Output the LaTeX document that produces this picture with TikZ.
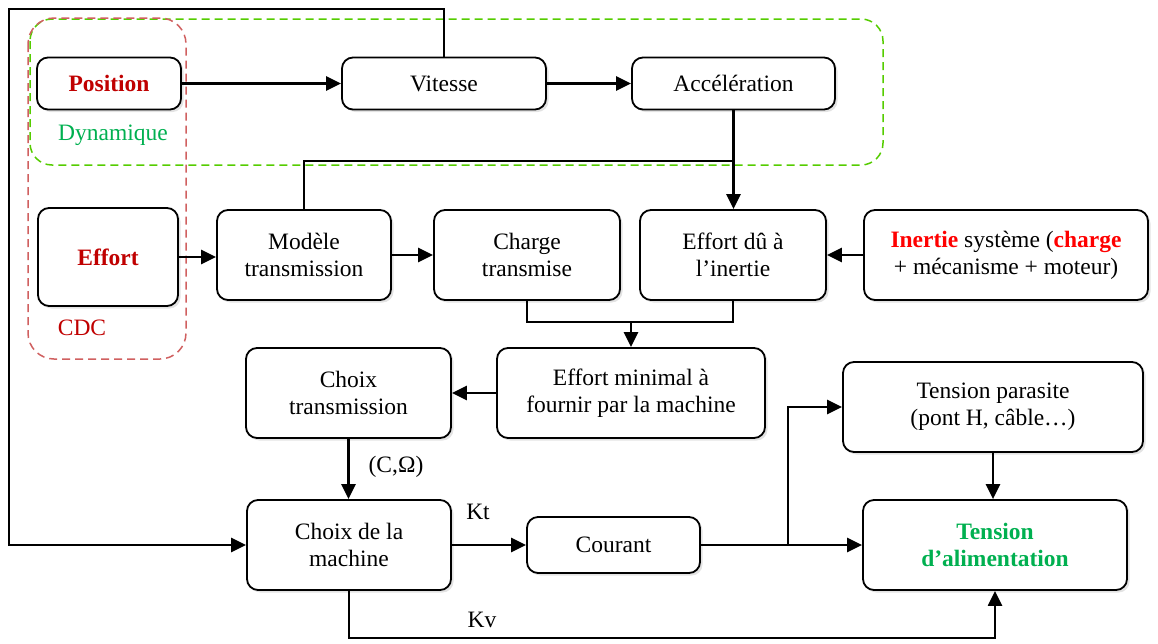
\documentclass[tikz,border=0pt]{standalone}
\usepackage{fontspec}
\setmainfont{Liberation Serif}
\usetikzlibrary{arrows.meta,shadows}
\definecolor{dred}{HTML}{C00000}
\definecolor{bred}{HTML}{FF0000}
\definecolor{gtxt}{HTML}{00B050}
\definecolor{gdash}{HTML}{55CC00}
\definecolor{rdash}{HTML}{D06060}
\begin{document}
\begin{tikzpicture}[x=1pt,y=-1pt,
  box/.style={draw, line width=1.8pt, rounded corners=11pt, fill=white, align=center, inner sep=0pt,
    font=\fontsize{23.5}{27}\selectfont,
    drop shadow={opacity=0.22, shadow xshift=2.5pt, shadow yshift=-2.5pt}},
  conn/.style={line width=2.4pt},
  arr/.style={conn, -{Triangle[length=15pt,width=14pt]}},
  lbl/.style={font=\fontsize{23.5}{27}\selectfont, inner sep=0pt},
  dashbox/.style={line width=1.5pt, dash pattern=on 8pt off 5pt}]
\useasboundingbox (0,0) rectangle (1158,643);

% dashed groups
\draw[dashbox, gdash, rounded corners=22pt] (30,19) rectangle (883,165);
\draw[dashbox, rdash, rounded corners=26pt] (28,18) rectangle (186,359);

% nodes
\node[box, minimum width=144, minimum height=52] (pos) at (109,83.5) {\color{dred}\bfseries Position};
\node[box, minimum width=204, minimum height=52] (vit) at (444,83.5) {Vitesse};
\node[box, minimum width=203, minimum height=52] (acc) at (733.5,83.5) {Accélération};
\node[lbl, text=gtxt] (dyn) at (113,135) {Dynamique};

\node[box, minimum width=140, minimum height=98] (eff) at (108,257) {\color{dred}\bfseries Effort};
\node[lbl, text=dred] (cdc) at (82,328) {CDC};
\node[box, minimum width=174, minimum height=90] (mod) at (304,255) {Modèle\\transmission};
\node[box, minimum width=186, minimum height=90] (chg) at (527,255) {Charge\\transmise};
\node[box, minimum width=186, minimum height=90] (edu) at (733,255) {Effort dû à\\l’inertie};
\node[box, minimum width=284, minimum height=90] (ine) at (1006,255) {{\color{bred}\bfseries Inertie} système ({\color{bred}\bfseries charge}\\+ mécanisme + moteur)};

\node[box, minimum width=205, minimum height=90] (ctr) at (348.5,393) {Choix\\transmission};
\node[box, minimum width=268, minimum height=90] (emin) at (631,393) {Effort minimal à\\fournir par la machine};
\node[box, minimum width=300, minimum height=90] (tpar) at (993,407) {Tension parasite\\(pont H, câble…)};

\node[box, minimum width=204, minimum height=90] (mach) at (349,545) {Choix de la\\machine};
\node[box, minimum width=173, minimum height=56] (cour) at (613.5,545) {Courant};
\node[box, minimum width=264, minimum height=90] (talim) at (995,545) {\color{gtxt}\bfseries Tension\\\color{gtxt}\bfseries d’alimentation};

% labels
\node[lbl] (lco) at (396,467) {(C,Ω)};
\node[lbl] (lkt) at (478,512) {Kt};
\node[lbl] (lkv) at (482,620) {Kv};

% helper coordinates
\coordinate (tl) at (9,9);
\coordinate (j1) at (733.5,161);
\coordinate (j2) at (631,322);
\coordinate (j3) at (788,545);
\coordinate (bot) at (349,638);

% connectors
\draw[arr] (pos.east) -- (vit.west);
\draw[arr] (vit.east) -- (acc.west);
\draw[arr] (vit.north) |- (tl) |- (mach.west);
\draw[arr] (acc.south) -- (acc.south |- edu.north);
\draw[conn] (mod.north) |- (j1);
\draw[arr] (eff.east) -- (eff.east -| mod.west);
\draw[arr] (mod.east) -- (chg.west);
\draw[arr] (ine.west) -- (edu.east);
\draw[conn] (chg.south) |- (j2) -| (edu.south);
\draw[arr] (j2) -- (emin.north);
\draw[arr] (emin.west) -- (ctr.east);
\draw[arr] (ctr.south) -- (ctr.south |- mach.north);
\draw[arr] (mach.east) -- (cour.west);
\draw[arr] (cour.east) -- (talim.west);
\draw[arr] (j3) |- (tpar.west);
\draw[arr] (tpar.south) -- (tpar.south |- talim.north);
\draw[arr] (mach.south) -- (bot) -| (talim.south);
\end{tikzpicture}
\end{document}
